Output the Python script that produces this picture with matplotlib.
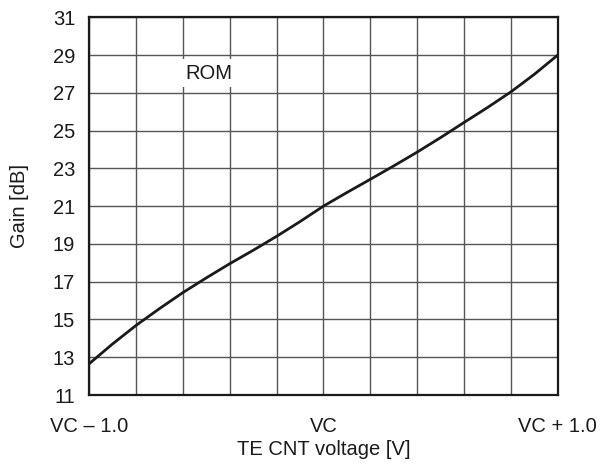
import matplotlib
import numpy as np

matplotlib.use("Agg")
import matplotlib.pyplot as plt

plt.rcParams["font.family"] = ["Liberation Sans", "DejaVu Sans"]

# curve, offset from VC in volts
voltage = [-1.0, -0.9, -0.8, -0.7, -0.6, -0.5, -0.4, -0.3, -0.2, -0.1,
           0.0, 0.1, 0.2, 0.3, 0.4, 0.5, 0.6, 0.7, 0.8, 0.9, 1.0]
gain_db = [12.65, 13.7, 14.68, 15.57, 16.42, 17.2, 17.95, 18.66, 19.4, 20.18,
           21.0, 21.72, 22.42, 23.13, 23.86, 24.63, 25.43, 26.22, 27.05, 27.98, 29.0]

x_grid = np.round(np.arange(-1.0, 1.01, 0.2), 2)
y_ticks = list(range(11, 32, 2))
x_tick_pos = [-1.0, 0.0, 1.0]
x_tick_labels = ["VC \u2013 1.0", "VC", "VC + 1.0"]

fig = plt.figure(figsize=(6.04, 4.65), dpi=100)
ax = fig.add_axes([0.1474, 0.1505, 0.776, 0.8123])

# grid drawn as lines so the x labels can stay at three positions
for xv in x_grid:
    ax.axvline(xv, color="#555555", lw=1.0, zorder=1)
for yv in y_ticks:
    ax.axhline(yv, color="#555555", lw=1.0, zorder=1)

ax.plot(voltage, gain_db, color="#1a1a1a", lw=2.0, zorder=3,
        solid_joinstyle="round", solid_capstyle="round")

ax.set_xlim(-1.0, 1.0)
ax.set_ylim(11, 31)
ax.set_yticks(y_ticks)
ax.set_xticks(x_tick_pos)
ax.set_xticklabels(x_tick_labels)
ax.tick_params(axis="both", length=0, labelsize=14.5, colors="#1a1a1a")
ax.tick_params(axis="y", pad=10)
ax.tick_params(axis="x", pad=16)

for spine in ax.spines.values():
    spine.set_color("#1a1a1a")
    spine.set_linewidth(1.6)
    spine.set_zorder(4)

ax.set_xlabel("TE CNT voltage [V]", fontsize=14.5, color="#1a1a1a", labelpad=3)
ax.set_ylabel("Gain [dB]", fontsize=14.5, color="#1a1a1a", labelpad=17)

ax.text(-0.49, 28.05, "ROM", fontsize=14.5, color="#1a1a1a", ha="center", va="center",
        zorder=5, bbox=dict(facecolor="white", edgecolor="none", pad=3))

fig.savefig("out.png", dpi=100, facecolor="white")
plt.close(fig)
